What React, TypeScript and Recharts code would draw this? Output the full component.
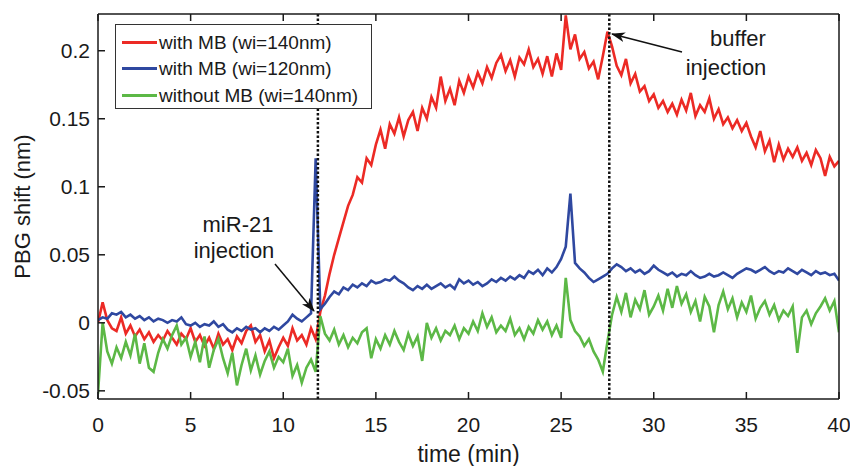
import React from 'react';
import { LineChart, Line, XAxis, YAxis, ReferenceLine } from 'recharts';

// sample times (min)
const TIME = [
  0, 0.25, 0.5, 0.75, 1, 1.25, 1.5, 1.75, 2, 2.25, 2.5, 2.75, 3, 3.25, 3.5, 3.75,
  4, 4.25, 4.5, 4.75, 5, 5.25, 5.5, 5.75, 6, 6.25, 6.5, 6.75, 7, 7.25, 7.5, 7.75,
  8, 8.25, 8.5, 8.75, 9, 9.25, 9.5, 9.75, 10, 10.25, 10.5, 10.75, 11, 11.25, 11.5, 11.75,
  12, 12.25, 12.5, 12.75, 13, 13.25, 13.5, 13.75, 14, 14.25, 14.5, 14.75, 15, 15.25, 15.5, 15.75,
  16, 16.25, 16.5, 16.75, 17, 17.25, 17.5, 17.75, 18, 18.25, 18.5, 18.75, 19, 19.25, 19.5, 19.75,
  20, 20.25, 20.5, 20.75, 21, 21.25, 21.5, 21.75, 22, 22.25, 22.5, 22.75, 23, 23.25, 23.5, 23.75,
  24, 24.25, 24.5, 24.75, 25, 25.25, 25.5, 25.75, 26, 26.25, 26.5, 26.75, 27, 27.25, 27.5, 27.75,
  28, 28.25, 28.5, 28.75, 29, 29.25, 29.5, 29.75, 30, 30.25, 30.5, 30.75, 31, 31.25, 31.5, 31.75,
  32, 32.25, 32.5, 32.75, 33, 33.25, 33.5, 33.75, 34, 34.25, 34.5, 34.75, 35, 35.25, 35.5, 35.75,
  36, 36.25, 36.5, 36.75, 37, 37.25, 37.5, 37.75, 38, 38.25, 38.5, 38.75, 39, 39.25, 39.5, 39.75,
  40,
];

// with MB (wi=140nm)
const RED = [
  0.000, 0.015, 0.002, -0.004, -0.006, 0.004, -0.008, -0.002,
  -0.010, -0.005, -0.012, -0.007, -0.014, -0.009, -0.013, -0.006,
  -0.011, -0.016, -0.008, -0.012, -0.004, -0.014, -0.009, -0.017,
  -0.011, -0.019, -0.008, -0.016, -0.012, -0.020, -0.010, -0.015,
  -0.006, -0.002, -0.014, -0.009, -0.021, -0.013, -0.026, -0.018,
  -0.011, -0.017, -0.004, -0.013, -0.009, -0.016, -0.004, -0.012,
  0.008, 0.020, 0.036, 0.050, 0.062, 0.074, 0.086, 0.094,
  0.107, 0.103, 0.121, 0.116, 0.131, 0.142, 0.128, 0.146,
  0.139, 0.151, 0.137, 0.149, 0.155, 0.141, 0.158, 0.150,
  0.166, 0.158, 0.181, 0.163, 0.172, 0.160, 0.178, 0.169,
  0.181, 0.173, 0.184, 0.176, 0.188, 0.180, 0.191, 0.197,
  0.185, 0.193, 0.181, 0.195, 0.190, 0.201, 0.188, 0.194,
  0.183, 0.196, 0.181, 0.198, 0.186, 0.226, 0.201, 0.212,
  0.194, 0.199, 0.187, 0.192, 0.179, 0.196, 0.214, 0.203,
  0.189, 0.182, 0.194, 0.176, 0.183, 0.170, 0.174, 0.163,
  0.168, 0.158, 0.163, 0.155, 0.161, 0.153, 0.164, 0.156,
  0.169, 0.152, 0.160, 0.155, 0.165, 0.150, 0.157, 0.146,
  0.151, 0.143, 0.149, 0.141, 0.147, 0.137, 0.129, 0.141,
  0.126, 0.134, 0.118, 0.131, 0.120, 0.128, 0.122, 0.129,
  0.119, 0.125, 0.116, 0.127, 0.121, 0.108, 0.122, 0.115,
  0.119,
];

// with MB (wi=120nm)
const BLUE = [
  0.002, 0.004, 0.003, 0.007, 0.006, 0.008, 0.004, 0.006,
  0.003, 0.005, 0.002, 0.004, 0.001, 0.003, 0.002, 0.000,
  0.002, 0.001, 0.004, -0.001, -0.002, 0.000, -0.003, -0.001,
  -0.002, 0.001, -0.003, -0.001, -0.005, -0.007, -0.004, -0.006,
  -0.003, -0.005, -0.004, -0.007, -0.004, -0.006, -0.003, -0.005,
  -0.002, 0.001, 0.006, 0.003, 0.001, 0.004, 0.007, 0.121,
  0.010, 0.014, 0.019, 0.023, 0.021, 0.026, 0.024, 0.028,
  0.026, 0.029, 0.027, 0.031, 0.029, 0.030, 0.032, 0.031,
  0.034, 0.031, 0.029, 0.026, 0.024, 0.027, 0.025, 0.028,
  0.025, 0.027, 0.029, 0.026, 0.028, 0.025, 0.032, 0.029,
  0.031, 0.028, 0.030, 0.027, 0.029, 0.032, 0.030, 0.033,
  0.031, 0.034, 0.032, 0.035, 0.033, 0.038, 0.036, 0.039,
  0.035, 0.040, 0.037, 0.041, 0.047, 0.056, 0.095, 0.044,
  0.040, 0.037, 0.033, 0.030, 0.032, 0.034, 0.036, 0.040,
  0.043, 0.041, 0.038, 0.040, 0.037, 0.039, 0.036, 0.038,
  0.042, 0.039, 0.037, 0.035, 0.037, 0.034, 0.036, 0.035,
  0.038, 0.035, 0.033, 0.034, 0.036, 0.034, 0.035, 0.037,
  0.035, 0.033, 0.036, 0.038, 0.040, 0.039, 0.037, 0.039,
  0.041, 0.038, 0.036, 0.038, 0.037, 0.040, 0.038, 0.036,
  0.039, 0.037, 0.035, 0.038, 0.036, 0.037, 0.035, 0.036,
  0.031,
];

// without MB (wi=140nm)
const GREEN = [
  -0.052, 0.000, -0.021, -0.030, -0.018, -0.026, -0.014, -0.024,
  -0.008, -0.030, -0.015, -0.033, -0.036, -0.022, -0.012, -0.019,
  -0.009, -0.002, -0.016, -0.011, -0.025, -0.014, -0.029, -0.010,
  -0.033, -0.020, -0.012, -0.026, -0.037, -0.022, -0.046, -0.031,
  -0.019, -0.035, -0.024, -0.038, -0.028, -0.021, -0.033, -0.025,
  -0.029, -0.019, -0.039, -0.031, -0.044, -0.033, -0.027, -0.036,
  0.005, -0.008, -0.013, -0.005, -0.016, -0.009, -0.018, -0.011,
  -0.015, -0.007, -0.004, -0.026, -0.012, -0.019, -0.009, -0.016,
  -0.006, -0.014, -0.020, -0.008, -0.017, -0.010, -0.028, 0.000,
  -0.011, -0.004, -0.013, -0.006, -0.009, -0.002, -0.012, -0.004,
  -0.008, 0.001, -0.006, 0.007, -0.003, 0.004, -0.007, -0.002,
  -0.006, 0.003, -0.009, -0.004, -0.012, -0.003, -0.008, 0.002,
  -0.005, 0.001, -0.009, -0.002, -0.011, 0.033, 0.002, -0.006,
  -0.010, -0.017, -0.012, -0.021, -0.027, -0.036, -0.014, 0.006,
  0.019, 0.008, 0.022, 0.004, 0.017, 0.010, 0.024, 0.006,
  0.012, 0.020, 0.009, 0.025, 0.011, 0.027, 0.014, 0.021,
  0.008, 0.016, 0.001, 0.019, 0.012, -0.007, 0.013, 0.023,
  0.010, 0.018, 0.004, 0.015, 0.008, 0.020, 0.003, 0.011,
  0.016, 0.006, 0.013, 0.002, 0.009, 0.005, 0.012, -0.022,
  0.004, 0.009, -0.001, 0.007, 0.012, 0.018, 0.009, 0.016,
  -0.007,
];

const X_TICKS = [0, 5, 10, 15, 20, 25, 30, 35, 40];
const Y_TICKS = [-0.05, 0, 0.05, 0.1, 0.15, 0.2];
const INJECTIONS = [11.87, 27.6];

const SERIES = [
  { key: 'red', name: 'with MB (wi=140nm)', color: '#ec2a25' },
  { key: 'blue', name: 'with MB (wi=120nm)', color: '#2f48a0' },
  { key: 'green', name: 'without MB (wi=140nm)', color: '#5cb846' },
];

const data = TIME.map((t, i) => ({ t, red: RED[i], blue: BLUE[i], green: GREEN[i] }));

const FONT = '"Liberation Sans", Arial, Helvetica, sans-serif';
const INK = '#1a1a1a';

const BottomTick = (props: any) => {
  const { x, y, payload } = props;
  return (
    <g>
      <line x1={x} y1={y} x2={x} y2={y - 7} stroke={INK} strokeWidth={1.5} />
      <text x={x} y={y + 33} textAnchor="middle" fontSize={21} fill={INK} fontFamily={FONT}>
        {payload.value}
      </text>
    </g>
  );
};

const TopTick = (props: any) => {
  const { x, y } = props;
  return <line x1={x} y1={y} x2={x} y2={y + 7} stroke={INK} strokeWidth={1.5} />;
};

const LeftTick = (props: any) => {
  const { x, y, payload } = props;
  return (
    <g>
      <line x1={x} y1={y} x2={x + 7} y2={y} stroke={INK} strokeWidth={1.5} />
      <text x={x - 8} y={y + 7} textAnchor="end" fontSize={21} fill={INK} fontFamily={FONT}>
        {payload.value}
      </text>
    </g>
  );
};

const RightTick = (props: any) => {
  const { x, y } = props;
  return <line x1={x} y1={y} x2={x - 7} y2={y} stroke={INK} strokeWidth={1.5} />;
};

const LegendBox = () => (
  <div
    style={{
      position: 'absolute',
      left: 115,
      top: 24,
      width: 257,
      height: 85,
      border: '1.5px solid #333',
      background: '#fff',
      fontFamily: FONT,
      fontSize: 19,
      color: INK,
      boxSizing: 'border-box',
      paddingTop: 4,
    }}
  >
    {SERIES.map((s) => (
      <div key={s.key} style={{ display: 'flex', alignItems: 'center', height: 26.5 }}>
        <div style={{ width: 35, height: 3, background: s.color, marginLeft: 6, marginRight: 2 }} />
        <span style={{ lineHeight: '19px' }}>{s.name}</span>
      </div>
    ))}
  </div>
);

export default function App() {
  return (
    <div style={{ position: 'absolute', left: 0, top: 0, width: 850, height: 466, background: '#fff' }}>
      <LineChart width={850} height={466} data={data} margin={{ top: 13, right: 10, bottom: 27, left: 38 }}>
        <XAxis
          dataKey="t"
          type="number"
          domain={[0, 40]}
          ticks={X_TICKS}
          allowDataOverflow
          height={40}
          tickSize={0}
          tickMargin={0}
          tick={<BottomTick />}
          axisLine={{ stroke: INK, strokeWidth: 1.5 }}
          label={({ viewBox }: any) => (
            <text
              x={viewBox.x + viewBox.width / 2}
              y={462}
              textAnchor="middle"
              fontSize={23}
              fill={INK}
              fontFamily={FONT}
            >
              time (min)
            </text>
          )}
        />
        <XAxis
          xAxisId="top"
          orientation="top"
          dataKey="t"
          type="number"
          domain={[0, 40]}
          ticks={X_TICKS}
          height={1}
          tickSize={0}
          tickMargin={0}
          tick={<TopTick />}
          axisLine={{ stroke: INK, strokeWidth: 1.5 }}
        />
        <YAxis
          type="number"
          domain={[-0.056, 0.227]}
          ticks={Y_TICKS}
          allowDataOverflow
          width={60}
          tickSize={0}
          tickMargin={0}
          tick={<LeftTick />}
          axisLine={{ stroke: INK, strokeWidth: 1.5 }}
          label={({ viewBox }: any) => (
            <text
              x={0}
              y={0}
              transform={`translate(30, ${viewBox.y + viewBox.height / 2}) rotate(-90)`}
              textAnchor="middle"
              fontSize={22}
              fill={INK}
              fontFamily={FONT}
            >
              PBG shift (nm)
            </text>
          )}
        />
        <YAxis
          yAxisId="r"
          orientation="right"
          type="number"
          domain={[-0.056, 0.227]}
          ticks={Y_TICKS}
          width={1}
          tickSize={0}
          tickMargin={0}
          tick={<RightTick />}
          axisLine={{ stroke: INK, strokeWidth: 1.5 }}
        />
        {SERIES.map((s) => (
          <Line
            key={s.key}
            dataKey={s.key}
            name={s.name}
            stroke={s.color}
            strokeWidth={2.6}
            dot={false}
            activeDot={false}
            type="linear"
            isAnimationActive={false}
          />
        ))}
        {INJECTIONS.map((x) => (
          <ReferenceLine key={x} x={x} stroke="#111" strokeWidth={2.5} strokeDasharray="2.5 2" />
        ))}
      </LineChart>
      <LegendBox />
      <svg
        width={850}
        height={466}
        style={{ position: 'absolute', left: 0, top: 0, pointerEvents: 'none' }}
      >
        <defs>
          <marker id="head" markerWidth="14" markerHeight="10" refX="13" refY="5" orient="auto" markerUnits="userSpaceOnUse">
            <path d="M0,0 L14,5 L0,10 L4,5 Z" fill="#111" />
          </marker>
        </defs>
        <g fontFamily={FONT} fontSize={22} fill={INK} textAnchor="middle">
          <text x={238} y={232}>miR-21</text>
          <text x={234} y={258}>injection</text>
          <text x={738} y={46}>buffer</text>
          <text x={726} y={75}>injection</text>
        </g>
        <line x1={275} y1={264} x2={314} y2={311} stroke="#111" strokeWidth={1.5} markerEnd="url(#head)" />
        <line x1={682} y1={52} x2={612} y2={34} stroke="#111" strokeWidth={1.5} markerEnd="url(#head)" />
      </svg>
    </div>
  );
}
